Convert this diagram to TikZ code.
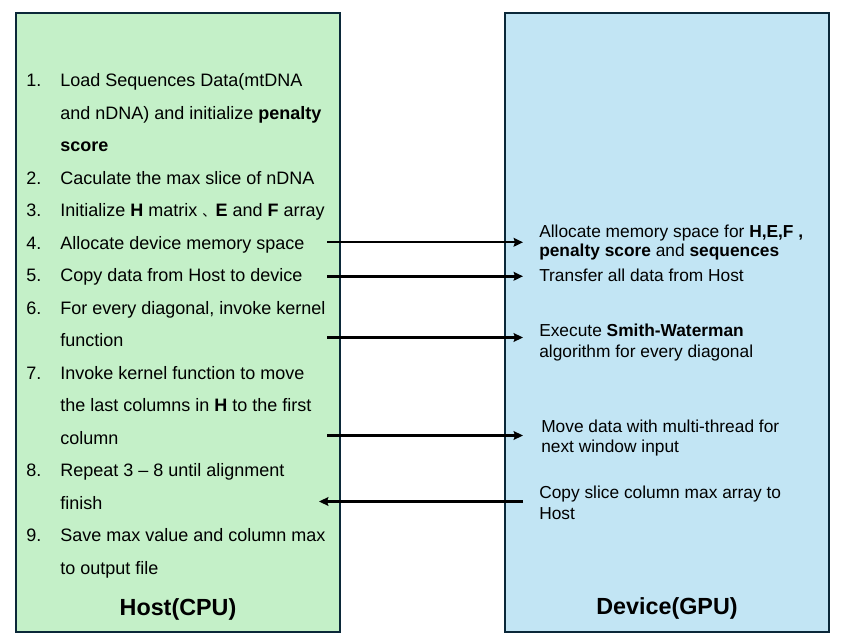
\documentclass[tikz,border=0pt]{standalone}
\usepackage{fontspec}
\setmainfont{Liberation Sans}
\newfontfamily\cjk{Noto Sans CJK SC}
\usetikzlibrary{arrows.meta}
\definecolor{hostfill}{HTML}{C4F0C8}
\definecolor{devfill}{HTML}{C2E5F4}
\definecolor{edgec}{HTML}{0B2839}
\begin{document}
\begin{tikzpicture}[x=0.75pt,y=-0.75pt,
  panel/.style={draw=edgec,line width=1.5pt,anchor=north west,inner sep=0pt,outer sep=0pt,minimum width=243pt,minimum height=464.25pt},
  lt/.style={anchor=base west,inner sep=0pt,font=\fontsize{13.5}{16}\selectfont},
  rt/.style={anchor=base west,inner sep=0pt,font=\fontsize{13}{15}\selectfont},
  ttl/.style={anchor=base,inner sep=0pt,font=\fontsize{17.5}{21}\selectfont\bfseries},
  link/.style={line width=1.8pt,-{Stealth[length=7pt,width=6.5pt,inset=1pt]}}]
\useasboundingbox (0,0) rectangle (844,642);
\node (host) [panel,fill=hostfill] at (16,13) {};
\node (dev) [panel,fill=devfill] at (505,13) {};

% left list
\node (n1) [lt] at (26,86.7) {1.};
\node (l1a) [lt] at (60,86.7) {Load Sequences Data(mtDNA};
\node (l1b) [lt] at (60,119.2) {and nDNA) and initialize \textbf{penalty}};
\node (l1c) [lt] at (60,151.7) {\textbf{score}};
\node (n2) [lt] at (26,184.2) {2.};
\node (l2) [lt] at (60,184.2) {Caculate the max slice of nDNA};
\node (n3) [lt] at (26,216.7) {3.};
\node (l3) [lt] at (60,216.7) {Initialize \textbf{H} matrix {\cjk\fontsize{10}{12}\selectfont 、}\textbf{E} and \textbf{F} array};
\node (n4) [lt] at (26,249.2) {4.};
\node (l4) [lt] at (60,249.2) {Allocate device memory space};
\node (n5) [lt] at (26,281.7) {5.};
\node (l5) [lt] at (60,281.7) {Copy data from Host to device};
\node (n6) [lt] at (26,314.2) {6.};
\node (l6a) [lt] at (60,314.2) {For every diagonal, invoke kernel};
\node (l6b) [lt] at (60,346.7) {function};
\node (n7) [lt] at (26,379.2) {7.};
\node (l7a) [lt] at (60,379.2) {Invoke kernel function to move};
\node (l7b) [lt] at (60,411.7) {the last columns in \textbf{H} to the first};
\node (l7c) [lt] at (60,444.2) {column};
\node (n8) [lt] at (26,476.7) {8.};
\node (l8a) [lt] at (60,476.7) {Repeat 3 – 8 until alignment};
\node (l8b) [lt] at (60,509.2) {finish};
\node (n9) [lt] at (26,541.7) {9.};
\node (l9a) [lt] at (60,541.7) {Save max value and column max};
\node (l9b) [lt] at (60,574.2) {to output file};
\node (hostt) [ttl] at (178,615) {Host(CPU)};

% right texts
\node (r1a) [rt] at (539,237.3) {Allocate memory space for \textbf{H,E,F ,}};
\node (r1b) [rt] at (539,257) {\textbf{penalty score} and \textbf{sequences}};
\node (r2) [rt] at (539,281.7) {Transfer all data from Host};
\node (r3a) [rt] at (539,336.7) {Execute \textbf{Smith-Waterman}};
\node (r3b) [rt] at (539,357.7) {algorithm for every diagonal};
\node (r4a) [rt] at (541,432.7) {Move data with multi-thread for};
\node (r4b) [rt] at (541,452.7) {next window input};
\node (r5a) [rt] at (539,498.3) {Copy slice column max array to};
\node (r5b) [rt] at (539,519) {Host};
\node (devt) [ttl] at (667,614) {Device(GPU)};

% connectors
\coordinate (s1) at (327,242.3);  \coordinate (e1) at (523,242.3);
\coordinate (s2) at (327,276.3);  \coordinate (e2) at (523,276.3);
\coordinate (s3) at (327,337.5);  \coordinate (e3) at (523,337.5);
\coordinate (s4) at (327,435.5);  \coordinate (e4) at (523,435.5);
\coordinate (s5) at (523,501.5);  \coordinate (e5) at (319,501.5);
\draw[link] (s1) -- (e1);
\draw[link] (s2) -- (e2);
\draw[link] (s3) -- (e3);
\draw[link] (s4) -- (e4);
\draw[link] (s5) -- (e5);
\end{tikzpicture}
\end{document}
